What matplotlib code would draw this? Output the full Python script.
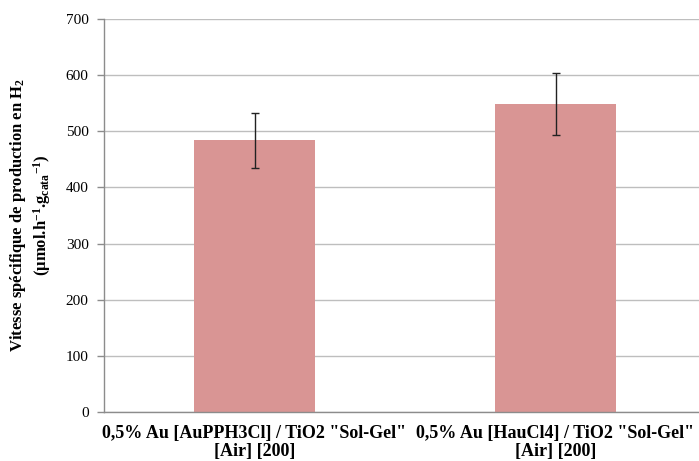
import matplotlib
matplotlib.use("Agg")
import matplotlib.pyplot as plt

categories = ['0,5% Au [AuPPH3Cl] / TiO2 "Sol-Gel"\n[Air] [200]',
              '0,5% Au [HauCl4] / TiO2 "Sol-Gel"\n[Air] [200]']
values = [484, 549]
errors = [49, 55]
yticks = [0, 100, 200, 300, 400, 500, 600, 700]

plt.rcParams['font.family'] = ['Liberation Serif', 'DejaVu Serif']
plt.rcParams['mathtext.fontset'] = 'custom'
plt.rcParams['mathtext.rm'] = 'Liberation Serif:bold'
plt.rcParams['mathtext.it'] = 'Liberation Serif:bold'
plt.rcParams['mathtext.bf'] = 'Liberation Serif:bold'

fig = plt.figure(figsize=(6.99, 4.61), dpi=100)
ax = fig.add_axes([104/699, 49/461, 595/699, 393/461])

x = list(range(len(categories)))
ax.bar(x, values, width=0.4, color='#D99594', zorder=2)
ax.errorbar(x, values, yerr=errors, fmt='none', ecolor='#222222',
            elinewidth=1.0, capsize=3, capthick=1.0, zorder=3)

ax.set_xlim(-0.5, -0.5 + 595/301)
ax.set_ylim(0, 700)
ax.set_yticks(yticks)
ax.set_yticklabels([str(v) for v in yticks], fontsize=11)
ax.set_xticks(x)
ax.set_xticklabels(categories, fontsize=13, fontweight='bold', linespacing=1.1)
ax.tick_params(axis='x', length=0, pad=9)
ax.tick_params(axis='y', length=5, color='#8C8C8C', width=1, pad=6)
ax.yaxis.grid(True, color='#BEBEBE', linewidth=1.0, zorder=0)
ax.set_axisbelow(True)
for s in ['top', 'right']:
    ax.spines[s].set_visible(False)
for s in ['left', 'bottom']:
    ax.spines[s].set_color('#8C8C8C')
    ax.spines[s].set_linewidth(1.0)

ax.set_ylabel('Vitesse spécifique de production en H$_2$\n'
              '(µmol.h$^{-1}$.g$_{cata}$$^{-1}$)',
              fontsize=12, fontweight='bold', linespacing=1.2)
ax.yaxis.set_label_coords(-0.085, 0.5)

fig.savefig('out.png', dpi=100)
